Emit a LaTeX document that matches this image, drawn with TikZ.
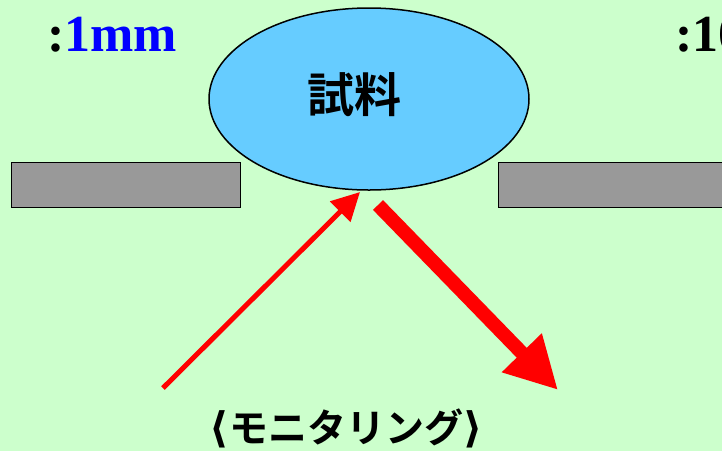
\documentclass[tikz,border=0pt]{standalone}
\usepackage{fontspec}
\setmainfont{Liberation Serif}
\newfontfamily\cjk{Noto Sans CJK JP}[BoldFont={* Bold}]
\newfontfamily\djv{DejaVu Sans}
\usetikzlibrary{shapes.geometric,arrows.meta}
\definecolor{bgc}{HTML}{CCFFCC}
\definecolor{samplec}{HTML}{66CCFF}
\definecolor{plate}{HTML}{999999}
\definecolor{arr}{HTML}{FF0000}
\definecolor{blu}{HTML}{0000FF}
\tikzset{
  platebox/.style={draw=black, line width=1pt, fill=plate, anchor=north west, minimum height=45pt, inner sep=0pt},
  redarrow/.style={draw=arr, line cap=butt},
  restext/.style={anchor=base west, font=\bfseries\fontsize{52}{56}\selectfont, inner sep=0pt},
}
\begin{document}
\begin{tikzpicture}[x=1pt,y=-1pt]
\fill[bgc] (0,0) rectangle (722,451);
\useasboundingbox (0,0) rectangle (722,451);
\node[platebox, minimum width=229pt] (lplate) at (11,162) {};
\node[platebox, minimum width=240pt] (rplate) at (498,162) {};
\node[ellipse, draw=black, line width=1.5pt, fill=samplec, minimum width=320pt, minimum height=182pt, inner sep=0pt] (sample) at (369,99) {};
\node[font=\cjk\bfseries\fontsize{47}{50}\selectfont, inner sep=0pt] (lbl) at (354,95) {試料};
\node[restext] (res) at (47,51) {:\textcolor{blu}{1mm}};
\node[restext] (res2) at (675,51) {:10};
\node[font=\cjk\bfseries\fontsize{39}{42}\selectfont, inner sep=0pt] (mon) at (346,428) {{\djv\bfseries\fontsize{42}{42}\selectfont ⟨}モニタリング{\djv\bfseries\fontsize{42}{42}\selectfont ⟩}};
\coordinate (inS) at (163,388);
\coordinate (inE) at (360,192);
\coordinate (outS) at (378,205);
\coordinate (outE) at (558,390);
\draw[redarrow, line width=5pt, -{Triangle[length=28pt,width=28pt]}] (inS) -- (inE);
\draw[redarrow, line width=14pt, -{Triangle[length=52pt,width=52pt]}] (outS) -- (outE);
\end{tikzpicture}
\end{document}
